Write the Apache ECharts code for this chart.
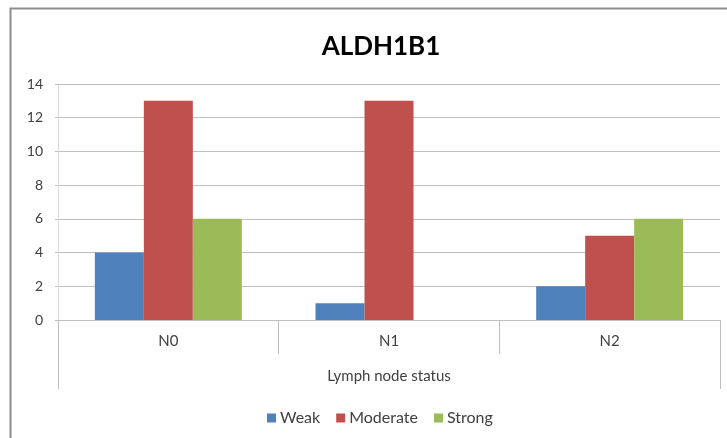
<!DOCTYPE html>
<html>
<head>
<meta charset="utf-8">
<script src="https://cdn.jsdelivr.net/npm/echarts@6/dist/echarts.min.js"></script>
<style>html,body{margin:0;padding:0;background:#fff}#c{width:727px;height:438px}</style>
</head>
<body>
<div id="c"></div>
<script>
const categories = ['N0', 'N1', 'N2'];
const groupLabel = ['Lymph node status'];
const weak = [4, 1, 2];
const moderate = [13, 13, 5];
const strong = [6, 0, 6];
const seriesNames = ['Weak', 'Moderate', 'Strong'];

const chart = echarts.init(document.getElementById('c'));
const font = 'Lato, "Noto Sans", sans-serif';
chart.setOption({
  animation: false,
  backgroundColor: '#fff',
  textStyle: { fontFamily: font },
  title: {
    text: 'ALDH1B1', left: 376, top: 29, textAlign: 'center',
    textStyle: { fontFamily: font, fontSize: 26, fontWeight: 'bold', color: '#000' }
  },
  graphic: [{
    type: 'rect', shape: { x: 10.5, y: 8.5, width: 800, height: 500 },
    style: { fill: null, stroke: '#8c8c8c', lineWidth: 2 }, silent: true
  }],
  legend: {
    data: seriesNames, left: 262, top: 405,
    itemWidth: 9, itemHeight: 9, itemGap: 16, icon: 'rect',
    textStyle: { fontFamily: font, fontSize: 16, color: '#404040', padding: [0, 0, 0, -1] }
  },
  grid: { left: 58, right: 7, top: 84, bottom: 118, containLabel: false },
  xAxis: [{
    type: 'category', data: categories, position: 'bottom',
    axisLine: { show: true, lineStyle: { color: '#bfbfbf', width: 1 } },
    axisTick: { show: true, length: 34, lineStyle: { color: '#bfbfbf' } },
    axisLabel: { margin: 14, fontSize: 15, color: '#404040', fontFamily: font }
  }, {
    type: 'category', data: groupLabel, position: 'bottom', offset: 34,
    axisLine: { show: false },
    axisTick: { show: true, length: 35, lineStyle: { color: '#bfbfbf' } },
    axisLabel: { margin: 15, fontSize: 15, color: '#404040', fontFamily: font }
  }],
  yAxis: {
    type: 'value', min: 0, max: 14, interval: 2,
    axisLine: { show: true, lineStyle: { color: '#d9d9d9' } },
    axisTick: { show: true, length: 3, lineStyle: { color: '#bfbfbf' } },
    axisLabel: { margin: 15, fontSize: 14, color: '#404040', fontFamily: font },
    splitLine: { show: true, lineStyle: { color: '#bfbfbf', width: 1 } }
  },
  series: [
    { name: seriesNames[0], type: 'bar', data: weak, barGap: '0%', barCategoryGap: '33.4%', itemStyle: { color: '#4F81BD' } },
    { name: seriesNames[1], type: 'bar', data: moderate, itemStyle: { color: '#C0504D' } },
    { name: seriesNames[2], type: 'bar', data: strong, itemStyle: { color: '#9BBB59' } }
  ]
});
</script>
</body>
</html>
